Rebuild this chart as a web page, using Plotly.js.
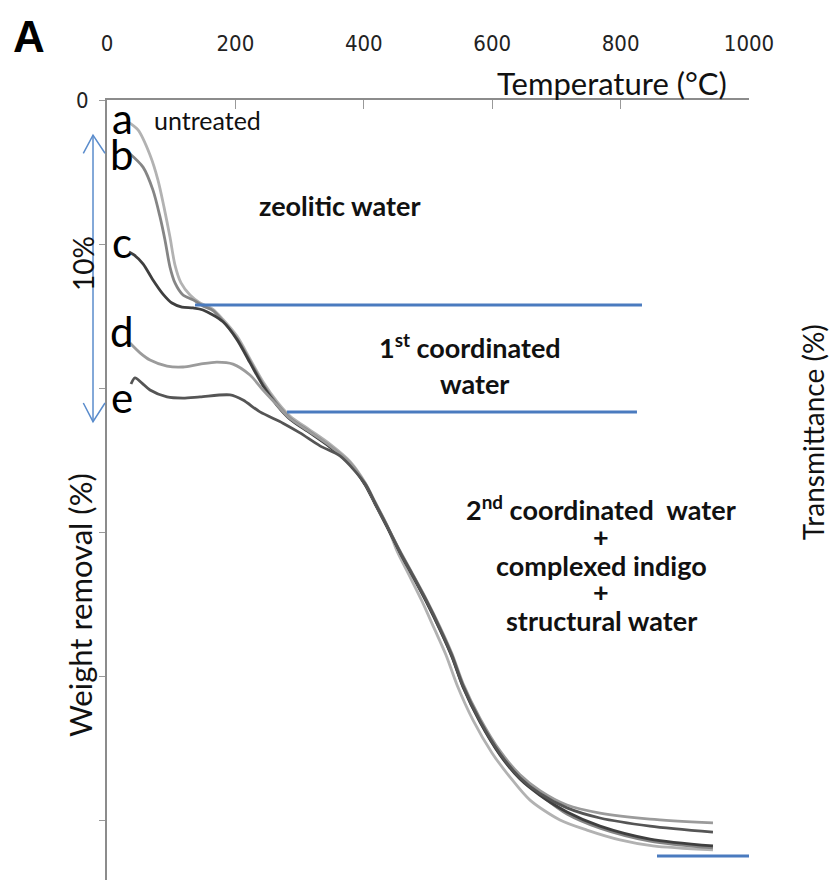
<!DOCTYPE html>
<html>
<head>
<meta charset="utf-8">
<script src="https://cdn.plot.ly/plotly-3.0.1.min.js"></script>
<style>html,body{margin:0;padding:0;background:#fff;}#chart{width:833px;height:880px;}</style>
</head>
<body>
<div id="chart"></div>
<script>
// Temperature (°C) and weight removal (%)
const tA = [32.7, 48.3, 67.0, 79.4, 88.8, 98.1, 105.9, 115.3, 129.3, 144.9, 165.1, 180.7, 202.5, 222.7, 243.0, 264.8, 285.0, 316.2, 347.3, 378.5, 401.9, 417.4, 436.1, 451.7, 470.4, 490.6, 509.3, 528.0, 545.2, 570.1, 599.7, 627.7, 658.9, 705.6, 747.6, 799.0, 850.4, 943.9];
const wA = [0.76, 1.04, 1.91, 2.78, 3.72, 4.76, 5.73, 6.35, 6.77, 7.05, 7.27, 7.62, 8.20, 8.99, 9.78, 10.47, 10.97, 11.46, 11.95, 12.55, 13.28, 13.95, 14.76, 15.66, 16.49, 17.40, 18.33, 19.27, 20.31, 21.53, 22.67, 23.51, 24.31, 25.00, 25.35, 25.69, 25.90, 26.04];

const tB = [34.3, 56.1, 71.6, 82.6, 90.3, 98.1, 105.9, 118.4, 134.0, 149.5, 165.1, 180.7, 202.5, 222.7, 243.0, 264.8, 285.0, 316.2, 347.3, 378.5, 401.9, 417.4, 436.1, 456.4, 476.6, 498.4, 518.7, 537.4, 554.5, 581.0, 612.1, 643.3, 674.4, 716.5, 767.9, 845.8, 943.9];
const wB = [1.84, 2.33, 3.13, 4.06, 4.86, 5.80, 6.35, 6.77, 6.94, 7.15, 7.31, 7.68, 8.28, 9.06, 9.86, 10.55, 11.04, 11.52, 12.02, 12.62, 13.34, 14.00, 14.80, 15.70, 16.52, 17.44, 18.38, 19.32, 20.36, 21.58, 22.72, 23.56, 24.12, 24.79, 25.28, 25.73, 25.97];

const tC = [34.3, 42.1, 56.1, 71.6, 87.2, 101.2, 116.8, 134.0, 149.5, 180.7, 202.5, 222.7, 243.0, 264.8, 285.0, 316.2, 347.3, 378.5, 401.9, 417.4, 436.1, 456.4, 476.6, 498.4, 518.7, 537.4, 554.5, 581.0, 612.1, 643.3, 674.4, 716.5, 767.9, 845.8, 943.9];
const wC = [5.28, 5.38, 5.69, 6.25, 6.74, 7.05, 7.19, 7.22, 7.29, 7.70, 8.32, 9.12, 9.92, 10.60, 11.08, 11.56, 12.05, 12.64, 13.36, 14.02, 14.82, 15.72, 16.55, 17.47, 18.40, 19.34, 20.38, 21.60, 22.74, 23.58, 24.14, 24.72, 25.21, 25.66, 25.90];

const tD = [35.8, 51.4, 67.0, 93.5, 118.4, 144.9, 171.3, 196.3, 222.7, 243.0, 264.8, 285.0, 316.2, 347.3, 378.5, 401.9, 417.4, 436.1, 456.4, 476.6, 498.4, 518.7, 537.4, 554.5, 581.0, 612.1, 643.3, 674.4, 716.5, 767.9, 845.8, 943.9];
const wD = [8.44, 8.78, 9.03, 9.24, 9.27, 9.17, 9.10, 9.17, 9.55, 10.07, 10.59, 11.06, 11.53, 12.01, 12.59, 13.31, 13.97, 14.77, 15.66, 16.48, 17.38, 18.30, 19.23, 20.26, 21.47, 22.60, 23.43, 23.98, 24.48, 24.76, 24.97, 25.10];

const tE = [37.4, 43.6, 54.5, 67.0, 93.5, 118.4, 144.9, 191.6, 211.8, 238.3, 274.1, 300.6, 331.8, 362.9, 401.9, 417.4, 436.1, 456.4, 476.6, 498.4, 518.7, 537.4, 554.5, 581.0, 612.1, 643.3, 674.4, 716.5, 767.9, 845.8, 943.9];
const wE = [9.86, 9.65, 9.83, 10.07, 10.31, 10.35, 10.31, 10.24, 10.42, 10.83, 11.22, 11.56, 12.01, 12.36, 13.32, 13.98, 14.79, 15.69, 16.51, 17.42, 18.35, 19.29, 20.33, 21.55, 22.69, 23.53, 24.08, 24.58, 24.93, 25.21, 25.42];

// Step boundary lines
const step1T = [137.1, 833.3];
const step1W = [7.12, 7.12];
const step2T = [280.4, 825.5];
const step2W = [10.83, 10.83];
const endT = [856.7, 1021.8];
const endW = [26.25, 26.25];

const xTicks = [0, 200, 400, 600, 800, 1000];
const yTicks = [0, 5, 10, 15, 20, 25];
const yTickText = ['0', '', '', '', '', ''];

const curveNames = ['a', 'b', 'c', 'd', 'e'];
const curveColors = ['#b2b2b2', '#858585', '#3f3f3f', '#9b9b9b', '#555555'];
const curvesT = [tA, tB, tC, tD, tE];
const curvesW = [wA, wB, wC, wD, wE];

const blue = '#4a7bbf';
const narrow = '"DejaVu Sans Condensed", "Liberation Sans Narrow", sans-serif';
const calib = 'Lato, "Open Sans", sans-serif';

const traces = [];
curveNames.forEach((n, i) => {
  traces.push({
    x: curvesT[i], y: curvesW[i], name: n, type: 'scatter', mode: 'lines',
    line: {color: curveColors[i], width: 2.8, shape: 'spline', smoothing: 0.8},
    hoverinfo: 'skip'
  });
});
[[step1T, step1W], [step2T, step2W], [endT, endW]].forEach(p => {
  traces.push({x: p[0], y: p[1], type: 'scatter', mode: 'lines', cliponaxis: false,
    line: {color: blue, width: 3}, hoverinfo: 'skip'});
});

function ann(o) {
  return Object.assign({showarrow: false, xanchor: 'center', yanchor: 'middle'}, o);
}
const txt = '#111';
const letterY = [0.62, 1.88, 4.93, 8.02, 10.32];
const annotations = [
  ann({text: '<b>A</b>', xref: 'paper', yref: 'paper', x: -0.1215, y: 1.0808,
   font: {family: '"Liberation Sans", Arial, sans-serif', size: 44, color: '#000'}}),
  ann({text: 'Temperature (°C)', xref: 'paper', yref: 'paper', x: 0.7866, y: 1.0218,
   font: {family: calib, size: 31, color: txt}}),
  ann({text: 'Weight removal (%)', xref: 'paper', yref: 'paper', x: -0.042, y: 0.3526, textangle: -90,
   font: {family: calib, size: 31, color: txt}}),
  ann({text: 'Transmittance (%)', xref: 'paper', yref: 'paper', x: 1.1, y: 0.5744, textangle: -90,
   font: {family: calib, size: 28, color: txt}}),
  ann({text: '10%', xref: 'paper', yref: 'y', x: -0.0374, y: 5.66, textangle: -90,
   font: {family: calib, size: 28, color: txt}}),
  ann({text: 'untreated', xref: 'x', yref: 'y', x: 155.8, y: 0.69,
   font: {family: calib, size: 25, color: txt}}),
  ann({text: '<b>zeolitic water</b>', xref: 'x', yref: 'y', x: 362.9, y: 3.68,
   font: {family: calib, size: 27, color: txt}}),
  ann({text: '<b>1<sup>st</sup> coordinated</b>', xref: 'x', yref: 'y', x: 565.4, y: 8.54,
   font: {family: calib, size: 27, color: txt}}),
  ann({text: '<b>water</b>', xref: 'x', yref: 'y', x: 572.4, y: 9.83,
   font: {family: calib, size: 27, color: txt}}),
  ann({text: '<b>2<sup>nd</sup> coordinated&nbsp; water</b>', xref: 'x', yref: 'y', x: 769.5, y: 14.17,
   font: {family: calib, size: 27, color: txt}}),
  ann({text: '<b>+</b>', xref: 'x', yref: 'y', x: 769.5, y: 15.17,
   font: {family: calib, size: 27, color: txt}}),
  ann({text: '<b>complexed indigo</b>', xref: 'x', yref: 'y', x: 769.5, y: 16.15,
   font: {family: calib, size: 27, color: txt}}),
  ann({text: '<b>+</b>', xref: 'x', yref: 'y', x: 769.5, y: 17.08,
   font: {family: calib, size: 27, color: txt}}),
  ann({text: '<b>structural water</b>', xref: 'x', yref: 'y', x: 769.5, y: 18.06,
   font: {family: calib, size: 27, color: txt}})
];
curveNames.forEach((n, i) => {
  annotations.push(ann({text: n, xref: 'x', yref: 'y', x: 23.4, y: letterY[i],
    font: {family: calib, size: 42, color: '#000'}}));
});

const shapes = [
  {type: 'line', xref: 'paper', yref: 'y', x0: -0.0218, x1: -0.0218, y0: 1.22, y1: 11.18,
   line: {color: '#5a8ccc', width: 1.5}},
  {type: 'path', xref: 'paper', yref: 'y', path: 'M -0.0369,1.85 L -0.0218,1.22 L -0.0031,1.85',
   line: {color: '#5a8ccc', width: 1.5}},
  {type: 'path', xref: 'paper', yref: 'y', path: 'M -0.0369,10.52 L -0.0218,11.17 L -0.0031,10.52',
   line: {color: '#5a8ccc', width: 1.5}}
];

const layout = {
  width: 833, height: 880,
  margin: {l: 107, r: 84, t: 100, b: 0},
  paper_bgcolor: '#fff', plot_bgcolor: '#fff',
  showlegend: false,
  xaxis: {
    range: [0, 1000], side: 'top', tickvals: xTicks, ticks: 'inside', ticklen: 9, tickwidth: 1,
    tickcolor: '#999', showline: true, linecolor: '#8c8c8c', linewidth: 2, showgrid: false, zeroline: false,
    ticklabelstandoff: 38, tickfont: {family: narrow, size: 22, color: '#222'}
  },
  yaxis: {
    range: [27.083, 0], tickvals: yTicks, ticktext: yTickText, ticks: 'outside', ticklen: 6, tickwidth: 1,
    tickcolor: '#999', showline: true, linecolor: '#8c8c8c', linewidth: 2, showgrid: false, zeroline: false,
    ticklabelstandoff: 6, tickfont: {family: narrow, size: 22, color: '#222'}
  },
  annotations: annotations,
  shapes: shapes
};

Plotly.newPlot('chart', traces, layout, {displayModeBar: false, staticPlot: true});
</script>
</body>
</html>
